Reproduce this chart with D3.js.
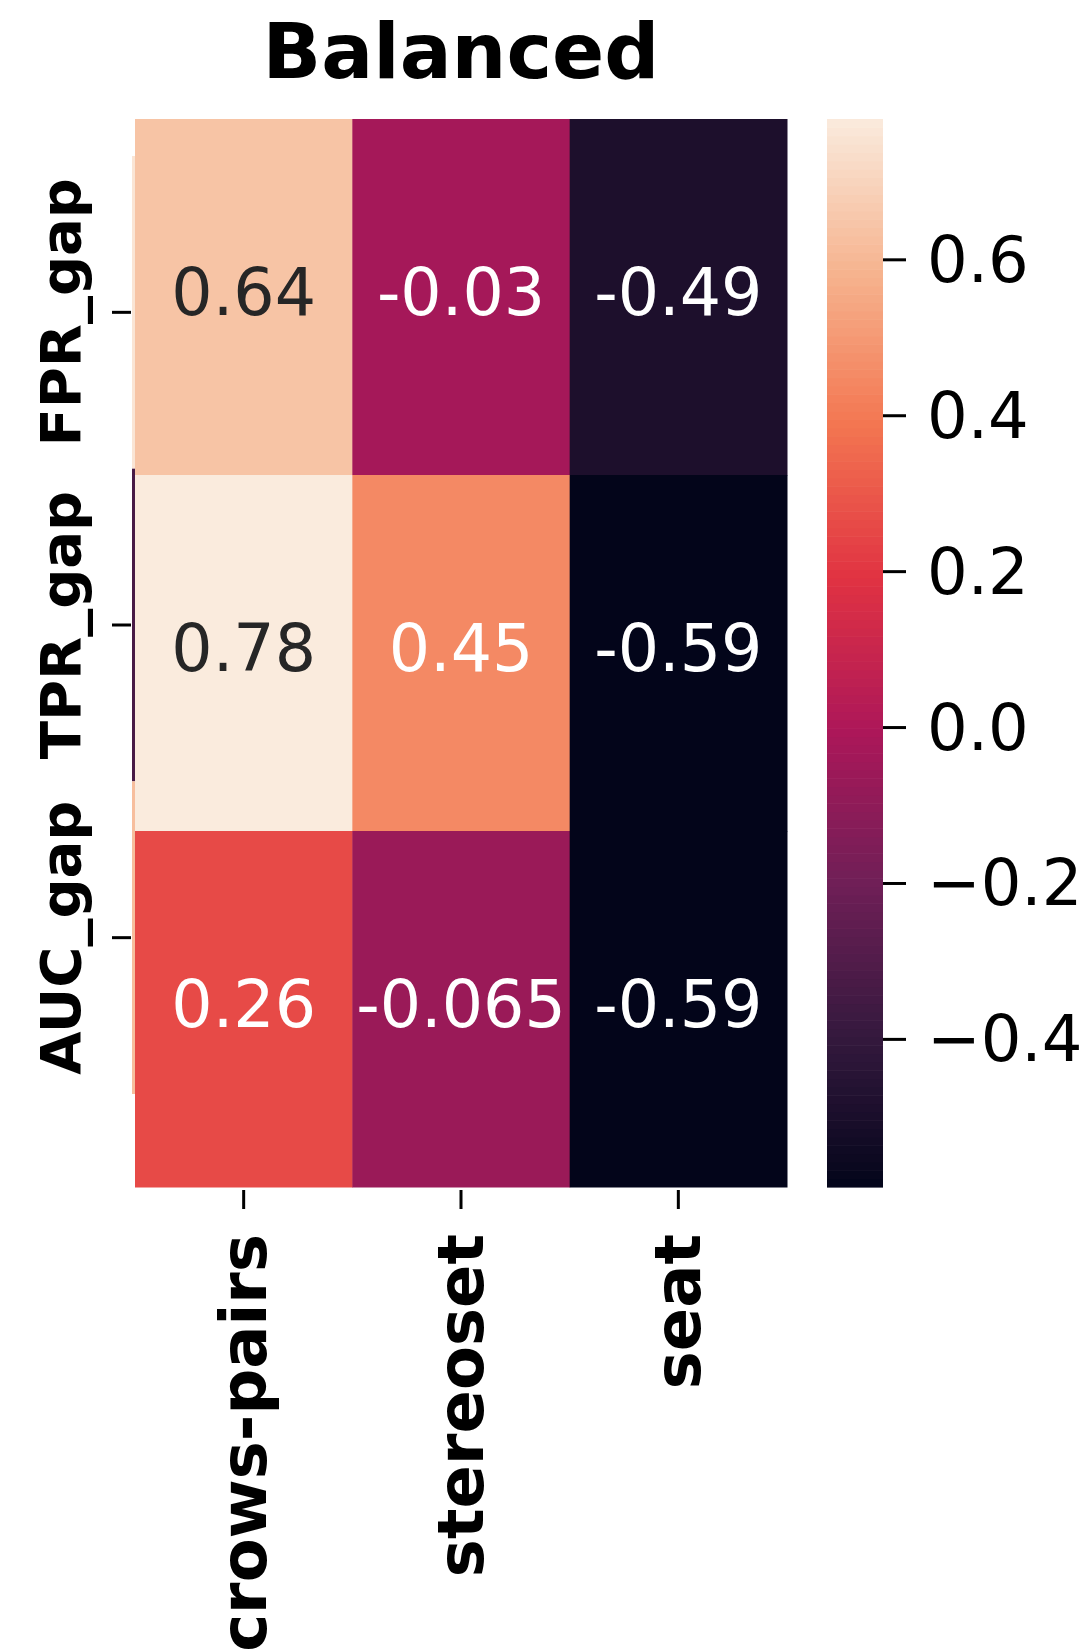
<!DOCTYPE html>
<html>
<head>
<meta charset="utf-8">
<script src="https://cdn.jsdelivr.net/npm/d3@7"></script>
<style>
  body { margin: 0; background: #fff; }
  svg { display: block; font-family: "DejaVu Sans", sans-serif; }
</style>
</head>
<body>
<svg width="1088" height="1651"></svg>
<script>
  // data
  var datasets = ["crows-pairs", "stereoset", "seat"];
  var metrics = ["FPR_gap", "TPR_gap", "AUC_gap"];
  var values = [
    [0.64, -0.03, -0.49],
    [0.78, 0.45, -0.59],
    [0.26, -0.065, -0.59]
  ];
  var labels = [
    ["0.64", "-0.03", "-0.49"],
    ["0.78", "0.45", "-0.59"],
    ["0.26", "-0.065", "-0.59"]
  ];
  var cbarTicks = [0.6, 0.4, 0.2, 0.0, -0.2, -0.4];
  // faint leftover strip at the left edge of the plot
  var ghostStrip = [0.76, -0.33, 0.62];

  // seaborn "rocket" colormap stops
  var rocket = ["#03051a", "#35193e", "#701f57", "#ad1759", "#e13342", "#f37651", "#f6b48f", "#faebdd"];

  var svg = d3.select("svg");

  var vmin = d3.min(values, function(r) { return d3.min(r); }),
      vmax = d3.max(values, function(r) { return d3.max(r); });

  var toT = d3.scaleLinear().domain([vmin, vmax]).range([0, 1]).clamp(true);
  var ramp = d3.scaleLinear()
      .domain(rocket.map(function(d, i) { return i / (rocket.length - 1); }))
      .range(rocket)
      .interpolate(d3.interpolateRgb);
  var color = function(v) { return ramp(toT(v)); };

  var x = d3.scaleBand().domain(datasets).range([135, 787]);
  var y = d3.scaleBand().domain(metrics).range([119, 1187]);
  var yTick = d3.scaleBand().domain(metrics).range([156, 1094]);

  // title
  svg.append("text")
      .attr("x", (x.range()[0] + x.range()[1]) / 2)
      .attr("y", 78)
      .attr("text-anchor", "middle")
      .attr("font-size", "77px")
      .attr("font-weight", "bold")
      .text("Balanced");

  // ghost strip
  svg.append("g").selectAll("rect")
      .data(ghostStrip)
      .enter().append("rect")
        .attr("x", 132)
        .attr("width", 3)
        .attr("y", function(d, i) { return yTick(metrics[i]); })
        .attr("height", yTick.bandwidth())
        .attr("fill", function(d) { return color(d); });

  // cells
  var cells = [];
  values.forEach(function(row, i) {
    row.forEach(function(v, j) {
      cells.push({ row: metrics[i], col: datasets[j], value: v, label: labels[i][j] });
    });
  });

  var cg = svg.append("g");
  cg.selectAll("rect")
      .data(cells)
      .enter().append("rect")
        .attr("x", function(d) { return x(d.col); })
        .attr("y", function(d) { return y(d.row); })
        .attr("width", x.bandwidth() + 0.5)
        .attr("height", y.bandwidth() + 0.5)
        .attr("fill", function(d) { return color(d.value); });

  function lum(c) {
    var rgb = d3.rgb(c);
    var f = function(u) { u /= 255; return u <= 0.03928 ? u / 12.92 : Math.pow((u + 0.055) / 1.055, 2.4); };
    return 0.2126 * f(rgb.r) + 0.7152 * f(rgb.g) + 0.0722 * f(rgb.b);
  }

  cg.selectAll("text")
      .data(cells)
      .enter().append("text")
        .attr("x", function(d) { return x(d.col) + x.bandwidth() / 2; })
        .attr("y", function(d) { return y(d.row) + y.bandwidth() / 2 - 5; })
        .attr("text-anchor", "middle")
        .attr("dominant-baseline", "central")
        .attr("font-size", "65px")
        .attr("fill", function(d) { return lum(color(d.value)) > 0.408 ? "#262626" : "#ffffff"; })
        .text(function(d) { return d.label; });

  // x axis
  var xa = svg.append("g").attr("transform", "translate(0,1187)");
  xa.selectAll("line")
      .data(datasets)
      .enter().append("line")
        .attr("x1", function(d) { return x(d) + x.bandwidth() / 2; })
        .attr("x2", function(d) { return x(d) + x.bandwidth() / 2; })
        .attr("y1", 3).attr("y2", 22)
        .attr("stroke", "#000").attr("stroke-width", 3);
  xa.selectAll("text")
      .data(datasets)
      .enter().append("text")
        .attr("transform", function(d) { return "translate(" + (x(d) + x.bandwidth() / 2) + ",47) rotate(-90)"; })
        .attr("text-anchor", "end")
        .attr("dominant-baseline", "central")
        .attr("font-size", "64px")
        .attr("font-weight", "bold")
        .text(function(d) { return d; });

  // y axis
  var ya = svg.append("g");
  ya.selectAll("line")
      .data(metrics)
      .enter().append("line")
        .attr("y1", function(d) { return yTick(d) + yTick.bandwidth() / 2; })
        .attr("y2", function(d) { return yTick(d) + yTick.bandwidth() / 2; })
        .attr("x1", 112).attr("x2", 131)
        .attr("stroke", "#000").attr("stroke-width", 3);
  ya.selectAll("text")
      .data(metrics)
      .enter().append("text")
        .attr("transform", function(d) { return "translate(60," + (yTick(d) + yTick.bandwidth() / 2) + ") rotate(-90)"; })
        .attr("text-anchor", "middle")
        .attr("dominant-baseline", "central")
        .attr("font-size", "56px")
        .attr("font-weight", "bold")
        .text(function(d) { return d; });

  // colorbar
  var cb = d3.scaleLinear().domain([vmin, vmax]).range([1187, 119]);
  var steps = d3.range(0, 128);
  var cbg = svg.append("g");
  cbg.selectAll("rect")
      .data(steps)
      .enter().append("rect")
        .attr("x", 827)
        .attr("width", 56)
        .attr("y", function(i) { return cb(vmin + (i + 1) * (vmax - vmin) / steps.length); })
        .attr("height", function(i) { return cb(vmin + i * (vmax - vmin) / steps.length) - cb(vmin + (i + 1) * (vmax - vmin) / steps.length) + 0.6; })
        .attr("fill", function(i) { return color(vmin + (i + 0.5) * (vmax - vmin) / steps.length); });

  var cbAxis = d3.axisRight(cb)
      .tickValues(cbarTicks)
      .tickSize(23)
      .tickPadding(21)
      .tickFormat(function(d) { return d3.format(".1f")(d).replace("-", "\u2212"); });
  var cba = svg.append("g")
      .attr("transform", "translate(883,0)")
      .call(cbAxis);
  cba.select(".domain").remove();
  cba.selectAll(".tick line").attr("stroke", "#000").attr("stroke-width", 3);
  cba.selectAll(".tick text")
      .attr("font-family", "DejaVu Sans, sans-serif")
      .attr("font-size", "64px")
      .attr("fill", "#000")
      .attr("dy", null)
      .attr("dominant-baseline", "central");
</script>
</body>
</html>
